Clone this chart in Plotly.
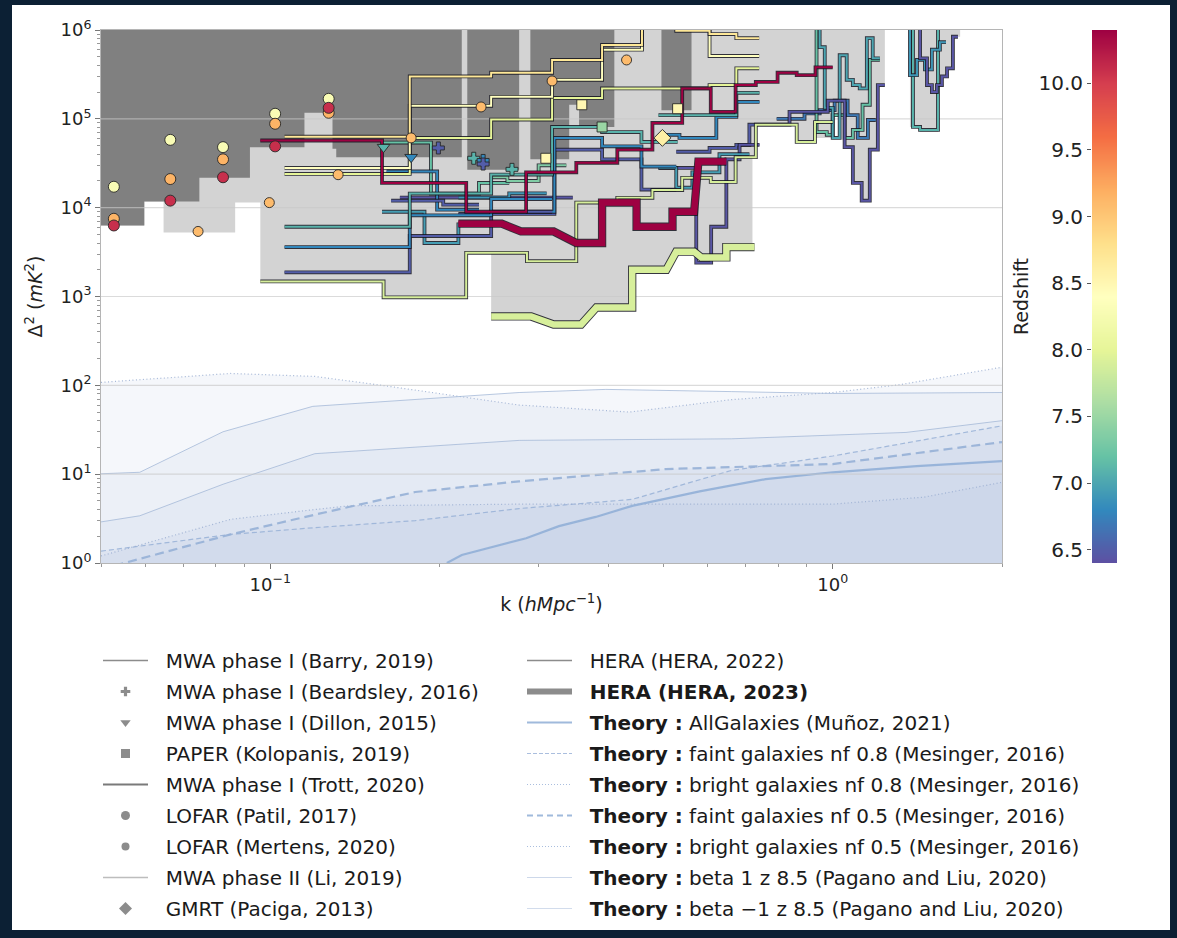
import numpy as np
import plotly.graph_objects as go
import plotly.colors as pc

# ---------------------------------------------------------------- colour map
Z_MIN, Z_MAX = 6.4, 10.4
SPECTRAL_R = pc.make_colorscale(pc.diverging.Spectral[::-1])


def zcolor(z):
    t = min(max((z - Z_MIN) / (Z_MAX - Z_MIN), 0.0), 1.0)
    return pc.sample_colorscale(SPECTRAL_R, [t])[0]


# ---------------------------------------------------------------- axes
K_MIN, K_MAX = 0.05, 2.0
D_MIN, D_MAX = 1.0, 1.0e6
y_tick_vals = [1, 10, 100, 1e3, 1e4, 1e5, 1e6]
y_tick_text = ["10<sup>0</sup>", "10<sup>1</sup>", "10<sup>2</sup>", "10<sup>3</sup>",
               "10<sup>4</sup>", "10<sup>5</sup>", "10<sup>6</sup>"]
x_tick_vals = [0.1, 1.0]
x_tick_text = ["10<sup>\u22121</sup>", "10<sup>0</sup>"]
cbar_tick_vals = [6.5, 7.0, 7.5, 8.0, 8.5, 9.0, 9.5, 10.0]

# ---------------------------------------------------------------- shaded limits
# lowest limit of all experiments (light) and of the older generation (dark)
light_floor_k = [0.05, 0.0597, 0.0597, 0.0646, 0.0646, 0.0866, 0.0866, 0.096, 0.096, 0.159,
                 0.159, 0.223, 0.223, 0.247, 0.247, 0.291, 0.319, 0.357, 0.38, 0.44,
                 0.44, 0.506, 0.527, 0.567, 0.584, 0.647, 0.647, 0.72, 0.72, 0.73,
                 0.73, 0.863, 0.863, 0.929, 0.929, 1.0, 1.0, 1.05, 1.05, 1.086,
                 1.086, 1.126, 1.126, 1.164, 1.164, 1.203, 1.203, 1.238, 1.238, 1.372,
                 1.372, 1.43, 1.43, 1.539, 1.539, 1.597, 1.597, 1.636, 1.636, 1.685,
                 1.685]
light_floor_d = [6.3e3, 6.3e3, 1.17e4, 1.17e4, 5.25e3, 5.25e3, 1.14e4, 1.14e4, 1.48e3, 1.48e3,
                 980, 980, 3.1e3, 3.1e3, 596, 596, 484, 484, 752, 752,
                 2.0e3, 2.0e3, 3.2e3, 3.2e3, 2.75e3, 2.75e3, 3.6e3, 3.6e3, 3.7e4, 3.7e4,
                 8.6e4, 8.6e4, 5.5e4, 5.5e4, 6.1e4, 6.1e4, 1.1e5, 1.1e5, 4.7e4, 4.7e4,
                 1.9e4, 1.9e4, 1.2e4, 1.2e4, 4.5e4, 4.5e4, 2.4e5, 2.4e5, 2e6, 2e6,
                 8.1e4, 8.1e4, 7.1e4, 7.1e4, 3.1e5, 3.1e5, 3.7e5, 3.7e5, 8.4e5, 8.4e5,
                 2e6]
dark_floor_k = [0.05, 0.0597, 0.0597, 0.0748, 0.0748, 0.092, 0.092, 0.115, 0.115, 0.129,
                0.129, 0.131, 0.131, 0.219, 0.219, 0.224, 0.224, 0.277, 0.277, 0.29,
                0.29, 0.34, 0.34, 0.354, 0.354, 0.409, 0.409, 0.496, 0.496, 0.561,
                0.561]
dark_floor_d = [6.3e3, 6.3e3, 1.17e4, 1.17e4, 2.17e4, 2.17e4, 4.8e4, 4.8e4, 1.17e5, 1.17e5,
                4.6e4, 4.6e4, 3.7e4, 3.7e4, 2e6, 2e6, 2.67e4, 2.67e4, 2e6, 2e6,
                3.5e4, 3.5e4, 1.44e5, 1.44e5, 8.1e4, 8.1e4, 2e6, 2e6, 1.25e5, 1.25e5,
                2e6]

# ---------------------------------------------------------------- theory curves
theory_bright08_k = [0.05, 0.085, 0.12, 0.158, 0.277, 0.435, 0.66, 1.0, 1.32, 2.0]
theory_bright08_d = [108, 136, 126, 100, 60, 50, 69, 83, 102, 160]
theory_beta_p1_k = [0.05, 0.0586, 0.0824, 0.119, 0.277, 0.395, 0.66, 1.0, 2.0]
theory_beta_p1_d = [10.1, 10.5, 30, 58, 83, 90, 85, 81, 83]
theory_beta_m1_k = [0.05, 0.0586, 0.0824, 0.12, 0.277, 0.66, 1.35, 2.0]
theory_beta_m1_d = [2.9, 3.4, 7.7, 17, 24, 25, 29.5, 40]
theory_faint05_k = [0.05, 0.055, 0.085, 0.12, 0.181, 0.277, 0.505, 1.0, 2.0]
theory_faint05_d = [0.85, 1.0, 2.1, 3.5, 6.3, 8.3, 11.4, 13, 23]
theory_faint08_k = [0.05, 0.085, 0.12, 0.181, 0.277, 0.44, 0.66, 1.0, 2.0]
theory_faint08_d = [1.36, 2.1, 2.5, 3.0, 4.1, 5.2, 11, 16, 35]
theory_bright05_k = [0.05, 0.085, 0.12, 0.138, 0.277, 1.0, 1.45, 2.0]
theory_bright05_d = [1.2, 3.1, 4.0, 4.4, 4.6, 4.6, 5.5, 8.1]
theory_allgal_k = [0.206, 0.219, 0.285, 0.326, 0.379, 0.44, 0.58, 0.76, 1.0, 1.41, 2.0]
theory_allgal_d = [1.0, 1.23, 1.9, 2.6, 3.3, 4.4, 6.4, 8.8, 10.5, 12.3, 14]

# ---------------------------------------------------------------- HERA limits
hera22_z104_k = [0.096, 0.158, 0.223, 0.285, 0.35, 0.414, 0.478, 0.54, 0.607, 0.672,
                 0.73, 0.798, 0.863, 0.932, 1.0]
hera22_z104_d = [5.7e4, 1.9e4, 9.0e3, 2.5e4, 3.2e4, 4.5e4, 9.0e4, 2.2e5, 1.2e5, 2.4e5,
                 2.6e5, 3.3e5, 3.1e5, 3.8e5, 3.8e5]
hera22_z79_k = [0.096, 0.159, 0.223, 0.286, 0.35, 0.414, 0.478, 0.54, 0.607, 0.672,
                0.73, 0.863, 0.93, 1.0]
hera22_z79_d = [1.48e3, 980, 3.1e3, 2.5e3, 1.14e4, 1.29e4, 1.58e4, 2.17e4, 1.95e4, 3.7e4,
                8.6e4, 5.5e4, 9.2e4, 9.2e4]
hera23_z104_k = [0.216, 0.258, 0.279, 0.319, 0.35, 0.389, 0.389, 0.448, 0.448, 0.519,
                 0.519, 0.567, 0.577, 0.647]
hera23_z104_d = [6.6e3, 6.6e3, 5.4e3, 5.4e3, 4.0e3, 4.0e3, 1.14e4, 1.14e4, 6.1e3, 6.1e3,
                 9.0e3, 9.0e3, 3.3e4, 3.3e4]
hera23_z79_k = [0.247, 0.291, 0.319, 0.357, 0.38, 0.44, 0.44, 0.506, 0.527, 0.567,
                0.584, 0.647, 0.647, 0.726]
hera23_z79_d = [596, 596, 484, 484, 752, 752, 2.0e3, 2.0e3, 3.2e3, 3.2e3,
                2.75e3, 2.75e3, 3.6e3, 3.6e3]

# ---------------------------------------------------------------- MWA limits
li_z87_k = [0.106, 0.177, 0.247, 0.317, 0.389, 0.458, 0.527, 0.604, 0.674, 0.74]
li_z87_d = [6.3e4, 3.0e5, 3.3e5, 4.6e5, 6.8e5, 1.5e6, 9.8e5, 9.0e5, 8.1e5, 8.1e5]
li_z84_k = [0.106, 0.177, 0.247, 0.317, 0.389, 0.458, 0.604, 0.74]
li_z84_d = [2.8e4, 1.4e5, 1.77e5, 2.75e5, 6.0e5, 1.5e6, 5.1e5, 5.1e5]
li_z80_k = [0.106, 0.177, 0.247, 0.317, 0.389, 0.604, 0.674, 0.74]
li_z80_d = [2.4e4, 6.1e4, 9.8e4, 1.72e5, 2.2e5, 2.4e5, 3.7e5, 3.7e5]

trott_z65_k = [0.106, 0.177, 0.247, 0.317]
trott_z65_d = [1.87e3, 4.8e3, 9.0e3, 9.0e3]
trott_z68_k = [0.106, 0.177, 0.247, 0.317]
trott_z68_d = [3.6e3, 8.2e3, 1.25e4, 1.25e4]
trott_z71_k = [0.106, 0.177, 0.247, 0.317, 0.389, 0.457, 0.53]
trott_z71_d = [6.1e3, 1.44e4, 2.36e4, 8.1e4, 7.1e4, 5.5e4, 5.5e4]

barry_a_k = [0.158, 0.193, 0.235, 0.266]
barry_a_d = [5.4e4, 1.44e4, 1.9e4, 1.9e4]
barry_b_k = [0.161, 0.198, 0.235]
barry_b_d = [2.56e4, 9.5e3, 9.5e3]
barry_c_k = [0.164, 0.203, 0.235]
barry_c_d = [1.2e4, 1.08e4, 1.08e4]
barry_d_k = [0.158, 0.188, 0.216, 0.235]
barry_d_d = [9.0e3, 4.0e3, 6.5e3, 6.5e3]
barry_e_k = [0.285, 0.32, 0.389, 0.457, 0.527]
barry_e_d = [9.0e3, 6.1e4, 4.9e4, 2.9e4, 2.9e4]
barry_f_k = [0.216, 0.32, 0.389, 0.457, 0.527]
barry_f_d = [8.5e3, 4.5e4, 3.5e4, 1.6e4, 1.6e4]
barry_g_k = [0.216, 0.266, 0.31]
barry_g_d = [1.3e4, 1.45e4, 1.45e4]
barry_h_k = [0.248, 0.264, 0.30, 0.336]
barry_h_d = [2.2e4, 2.0e4, 3.0e4, 3.0e4]
barry_i_k = [0.17, 0.345]
barry_i_d = [1.3e4, 1.3e4]

trott_hi_a_k = [0.49, 0.534, 0.621, 0.674, 0.741]
trott_hi_a_d = [6.6e4, 6.1e4, 1.05e5, 1.55e5, 1.55e5]
trott_hi_b_k = [0.49, 0.674, 0.741]
trott_hi_b_d = [1.1e5, 1.96e5, 1.96e5]
trott_hi_c_k = [0.527, 0.604, 0.674, 0.711, 0.741]
trott_hi_c_d = [4.26e4, 4.7e4, 5.1e4, 8.6e4, 8.6e4]
trott_hi_d_k = [0.49, 0.572, 0.608, 0.647, 0.683, 0.741]
trott_hi_d_d = [2.8e4, 2.4e3, 6.1e3, 3.5e4, 5.1e4, 5.1e4]
trott_hi_e_k = [0.49, 0.527, 0.563, 0.629, 0.711]
trott_hi_e_d = [2.8e4, 1.68e4, 2.5e4, 4.0e4, 4.0e4]

trott_k1_a_k = [0.91, 0.936, 0.976, 1.0, 1.05, 1.086, 1.13, 1.164, 1.213]
trott_k1_a_d = [1.3e6, 7.1e4, 6.6e4, 1.1e5, 6.1e4, 7.5e4, 1.44e5, 4.6e5, 4.6e5]
trott_k1_b_k = [0.929, 0.948, 0.968, 1.0, 1.029, 1.059, 1.086, 1.117, 1.15, 1.178, 1.213]
trott_k1_b_d = [1.3e6, 6.4e5, 1.33e5, 6.1e4, 5.2e5, 2.75e5, 2.4e5, 2.2e5, 8.1e5, 4.8e5, 4.8e5]
trott_k1_c_k = [0.741, 0.838, 0.98, 1.05, 1.086, 1.126, 1.164, 1.203, 1.238]
trott_k1_c_d = [8.6e4, 1.2e5, 1.6e5, 4.8e4, 1.9e4, 1.2e4, 4.5e4, 2.4e5, 2.4e5]
trott_k1_d_k = [0.795, 0.891, 0.948, 1.008, 1.063, 1.108, 1.155, 1.193]
trott_k1_d_d = [1.0e5, 1.15e5, 1.25e5, 1.6e5, 1.1e5, 6.1e4, 9.7e4, 9.7e4]

trott_k2_a_k = [1.344, 1.389, 1.43, 1.539, 1.583]
trott_k2_a_d = [1.3e6, 8.1e4, 7.5e4, 1.3e6, 1.3e6]
trott_k2_b_k = [1.40, 1.43, 1.471, 1.501, 1.532, 1.564, 1.597, 1.636, 1.67]
trott_k2_b_d = [1.3e6, 4.8e5, 2.4e5, 2.0e5, 2.4e5, 3.0e5, 3.7e5, 8.4e5, 8.4e5]
trott_k2_c_k = [1.344, 1.372, 1.412, 1.459, 1.501, 1.551, 1.59]
trott_k2_c_d = [1.3e6, 3.1e5, 4.6e5, 3.6e5, 6.0e5, 7.3e5, 7.3e5]

# ---------------------------------------------------------------- point limits
patil_k = [0.0527, 0.0664, 0.0824, 0.102, 0.127]
patil_z83_d = [1.72e4, 5.8e4, 4.8e4, 1.14e5, 1.68e5]
patil_z915_d = [7.5e3, 2.1e4, 3.5e4, 8.8e4, 1.17e5]
patil_z101_d = [6.3e3, 1.2e4, 2.2e4, 4.9e4, 1.33e5]
mertens_k = [0.0744, 0.0996, 0.132, 0.178, 0.237, 0.317, 0.43]
mertens_d = [5.4e3, 1.14e4, 2.35e4, 6.1e4, 1.36e5, 2.67e5, 4.6e5]
dillon_k = [0.159, 0.178]
dillon_d = [4.8e4, 3.7e4]
dillon_z = [7.1, 6.8]
beardsley_k = [0.199, 0.23, 0.239, 0.239, 0.269]
beardsley_d = [4.7e4, 3.6e4, 3.4e4, 3.1e4, 2.7e4]
beardsley_z = [6.5, 7.1, 6.8, 6.5, 7.1]
kolopanis_k = [0.309, 0.358, 0.389, 0.53]
kolopanis_d = [3.6e4, 1.44e5, 8.1e4, 1.3e5]
kolopanis_z = [8.5, 8.5, 7.5, 8.5]
paciga_k = [0.498]
paciga_d = [6.1e4]
paciga_z = [8.6]

# ---------------------------------------------------------------- legend
PAD = "\u00a0\u00a0"
legend_left = [
    ("MWA phase I (Barry, 2019)", dict(mode="lines", line=dict(color="#8c8c8c", width=1.5))),
    ("MWA phase I (Beardsley, 2016)", dict(mode="markers", marker=dict(symbol="cross", size=8, color="#8c8c8c"))),
    ("MWA phase I (Dillon, 2015)", dict(mode="markers", marker=dict(symbol="triangle-down", size=9, color="#8c8c8c"))),
    ("PAPER (Kolopanis, 2019)", dict(mode="markers", marker=dict(symbol="square", size=9, color="#8c8c8c"))),
    ("MWA phase I (Trott, 2020)", dict(mode="lines", line=dict(color="#7a7a7a", width=2))),
    ("LOFAR (Patil, 2017)", dict(mode="markers", marker=dict(symbol="circle", size=9, color="#8c8c8c"))),
    ("LOFAR (Mertens, 2020)", dict(mode="markers", marker=dict(symbol="circle", size=8, color="#8c8c8c"))),
    ("MWA phase II (Li, 2019)", dict(mode="lines", line=dict(color="#bdbdbd", width=1.5))),
    ("GMRT (Paciga, 2013)", dict(mode="markers", marker=dict(symbol="diamond", size=10, color="#8c8c8c"))),
]
TH = "<b>Theory :</b> "
legend_right = [
    ("HERA (HERA, 2022)", dict(mode="lines", line=dict(color="#8c8c8c", width=1.5))),
    ("<b>HERA (HERA, 2023)</b>", dict(mode="lines", line=dict(color="#8c8c8c", width=6))),
    (TH + "AllGalaxies (Muñoz, 2021)", dict(mode="lines", line=dict(color="rgb(160,186,220)", width=2))),
    (TH + "faint galaxies nf 0.8 (Mesinger, 2016)", dict(mode="lines", line=dict(color="rgb(170,190,222)", width=1, dash="4px,2px"))),
    (TH + "bright galaxies nf 0.8 (Mesinger, 2016)", dict(mode="lines", line=dict(color="rgb(170,190,222)", width=1, dash="1px,2px"))),
    (TH + "faint galaxies nf 0.5 (Mesinger, 2016)", dict(mode="lines", line=dict(color="rgb(160,186,220)", width=2, dash="6px,4px"))),
    (TH + "bright galaxies nf 0.5 (Mesinger, 2016)", dict(mode="lines", line=dict(color="rgb(170,190,222)", width=1, dash="1px,2px"))),
    (TH + "beta 1 z 8.5 (Pagano and Liu, 2020)", dict(mode="lines", line=dict(color="rgb(205,216,234)", width=1.2))),
    (TH + "beta \u22121 z 8.5 (Pagano and Liu, 2020)", dict(mode="lines", line=dict(color="rgb(210,220,236)", width=1.2))),
]

# ================================================================= figure
fig = go.Figure()
FONT = "DejaVu Sans"
NOHOVER = dict(hoverinfo="skip", showlegend=False)


def polygon_above(k, d, color):
    xs = list(k) + [k[-1], k[0]]
    ys = list(d) + [2e6, 2e6]
    fig.add_trace(go.Scatter(x=xs, y=ys, mode="lines", fill="toself", fillcolor=color,
                             line=dict(width=0, color=color), **NOHOVER))


polygon_above(light_floor_k, light_floor_d, "rgb(211,211,211)")
polygon_above(dark_floor_k, dark_floor_d, "rgb(128,128,128)")

# theory: each curve shaded down to the bottom of the axis
THEORY_FILL = "rgba(176,196,222,0.13)"
theory_curves = [
    (theory_bright08_k, theory_bright08_d, dict(color="rgba(150,172,208,0.85)", width=1.2, dash="1px,2.5px")),
    (theory_beta_p1_k, theory_beta_p1_d, dict(color="rgba(160,182,214,0.75)", width=1)),
    (theory_beta_m1_k, theory_beta_m1_d, dict(color="rgba(160,182,214,0.75)", width=1)),
    (theory_faint05_k, theory_faint05_d, dict(color="rgba(150,176,214,0.9)", width=2.2, dash="9px,5px")),
    (theory_faint08_k, theory_faint08_d, dict(color="rgba(150,176,214,0.85)", width=1.2, dash="5px,3px")),
    (theory_bright05_k, theory_bright05_d, dict(color="rgba(150,172,208,0.85)", width=1.2, dash="1px,2.5px")),
    (theory_allgal_k, theory_allgal_d, dict(color="rgba(145,175,215,0.9)", width=2.2)),
]
for k, d, style in theory_curves:
    fig.add_trace(go.Scatter(x=list(k) + [k[-1], k[0]], y=list(d) + [0.5, 0.5],
                             mode="lines", fill="toself", fillcolor=THEORY_FILL,
                             line=dict(width=0, color=THEORY_FILL), **NOHOVER))
for k, d, style in theory_curves:
    fig.add_trace(go.Scatter(x=k, y=d, mode="lines", line=style, **NOHOVER))

# horizontal grid, kept above the shading
for v in y_tick_vals[1:-1]:
    fig.add_trace(go.Scatter(x=[K_MIN, K_MAX], y=[v, v], mode="lines",
                             line=dict(color="rgba(200,200,200,0.65)", width=1.2), **NOHOVER))

EDGE = "rgba(20,20,30,0.85)"


def step_line(k, d, z, width=2.0, shape="hv"):
    fig.add_trace(go.Scatter(x=k, y=d, mode="lines",
                             line=dict(color=EDGE, width=width + 1.8, shape=shape), **NOHOVER))
    fig.add_trace(go.Scatter(x=k, y=d, mode="lines",
                             line=dict(color=zcolor(z), width=width, shape=shape), **NOHOVER))


step_lines = [
    (trott_k1_d_k, trott_k1_d_d, 6.7), (trott_k1_a_k, trott_k1_a_d, 7.2),
    (trott_k1_b_k, trott_k1_b_d, 7.0), (trott_k1_c_k, trott_k1_c_d, 6.45),
    (trott_k2_a_k, trott_k2_a_d, 7.1), (trott_k2_c_k, trott_k2_c_d, 6.9),
    (trott_k2_b_k, trott_k2_b_d, 6.45),
    (trott_hi_a_k, trott_hi_a_d, 6.8), (trott_hi_b_k, trott_hi_b_d, 7.1),
    (trott_hi_c_k, trott_hi_c_d, 6.5), (trott_hi_d_k, trott_hi_d_d, 6.45),
    (trott_hi_e_k, trott_hi_e_d, 6.95),
    (barry_i_k, barry_i_d, 6.45), (barry_d_k, barry_d_d, 6.95),
    (barry_a_k, barry_a_d, 7.2), (barry_b_k, barry_b_d, 6.8), (barry_c_k, barry_c_d, 6.5),
    (barry_g_k, barry_g_d, 6.9), (barry_h_k, barry_h_d, 7.35),
    (barry_f_k, barry_f_d, 6.5), (barry_e_k, barry_e_d, 6.8),
    (trott_z65_k, trott_z65_d, 6.5), (trott_z68_k, trott_z68_d, 6.8),
    (trott_z71_k, trott_z71_d, 7.1),
    (li_z80_k, li_z80_d, 8.0), (li_z84_k, li_z84_d, 8.4), (li_z87_k, li_z87_d, 8.7),
    (hera22_z79_k, hera22_z79_d, 7.9), (hera22_z104_k, hera22_z104_d, 10.4),
]
for k, d, z in step_lines:
    step_line(k, d, z)

# HERA 2023 (thick)
step_line(hera23_z79_k, hera23_z79_d, 7.9, width=6.5, shape="linear")
step_line(hera23_z104_k, hera23_z104_d, 10.4, width=6.5, shape="linear")

# point limits
MEDGE = dict(color="rgba(40,40,40,0.9)", width=1)


def points(k, d, zs, symbol, size):
    fig.add_trace(go.Scatter(x=k, y=d, mode="markers",
                             marker=dict(symbol=symbol, size=size, color=[zcolor(z) for z in zs],
                                         line=MEDGE), **NOHOVER))


points(patil_k, patil_z83_d, [8.3] * len(patil_k), "circle", 11)
points(patil_k, patil_z915_d, [9.15] * len(patil_k), "circle", 11)
points(patil_k, patil_z101_d, [10.1] * len(patil_k), "circle", 11)
points(mertens_k, mertens_d, [9.1] * len(mertens_k), "circle", 10)
points(dillon_k, dillon_d, dillon_z, "triangle-down", 11)
points(beardsley_k, beardsley_d, beardsley_z, "cross", 10)
points(kolopanis_k, kolopanis_d, kolopanis_z, "square", 10)
points(paciga_k, paciga_d, paciga_z, "diamond", 13)

# legend entries
for i, (name, style) in enumerate(legend_left):
    fig.add_trace(go.Scatter(x=[None], y=[None], name=PAD + name, legend="legend",
                             legendgroup=f"l{i}", **style))
for i, (name, style) in enumerate(legend_right):
    fig.add_trace(go.Scatter(x=[None], y=[None], name=PAD + name, legend="legend2",
                             legendgroup=f"r{i}", **style))

# redshift colour bar drawn as its own small axis
cbar_z = np.linspace(Z_MIN, Z_MAX, 256)
fig.add_trace(go.Heatmap(x=[0], y=cbar_z, z=cbar_z.reshape(-1, 1), colorscale=SPECTRAL_R,
                         zmin=Z_MIN, zmax=Z_MAX, showscale=False, zsmooth="best",
                         xaxis="x2", yaxis="y2", hoverinfo="skip"))

# ---------------------------------------------------------------- layout
W, H = 1177, 938
ML, MR, MT, MB = 101, 60, 30, 375
PW, PH = W - ML - MR, H - MT - MB


def px_x(p):
    return (p - ML) / PW


def px_y(p):
    return (H - MB - p) / PH


axis_common = dict(showline=True, mirror=True, linecolor="#b5b5b5", linewidth=1,
                   ticks="outside", tickcolor="#777", ticklen=5, tickwidth=1,
                   showgrid=False, zeroline=False,
                   tickfont=dict(family=FONT, size=18, color="#222"))
LEGEND_FONT = dict(family=FONT, size=20, color="#1a1a1a")

fig.update_layout(
    width=W, height=H,
    margin=dict(l=ML, r=MR, t=MT, b=MB, autoexpand=False),
    paper_bgcolor="rgb(12,32,52)", plot_bgcolor="white",
    hovermode=False,
    font=dict(family=FONT, color="#222"),
    xaxis=dict(type="log", range=[np.log10(K_MIN), np.log10(K_MAX)], domain=[0, px_x(1002)],
               tickvals=x_tick_vals, ticktext=x_tick_text,
               minor=dict(tickvals=[0.05, 0.06, 0.07, 0.08, 0.09, 0.2, 0.3, 0.4, 0.5, 0.6,
                                    0.7, 0.8, 0.9, 2.0],
                          ticks="outside", ticklen=3, tickcolor="#999"),
               title=dict(text="k (<i>hMpc</i><sup>\u22121</sup>)",
                          font=dict(family=FONT, size=19, color="#222"), standoff=4),
               **axis_common),
    yaxis=dict(type="log", range=[np.log10(D_MIN), np.log10(D_MAX)],
               tickvals=y_tick_vals, ticktext=y_tick_text,
               minor=dict(tickvals=[m * 10 ** n for n in range(6) for m in range(2, 10)],
                          ticks="outside", ticklen=3, tickcolor="#999"),
               title=dict(text="\u0394<sup>2</sup> (<i>mK</i><sup>2</sup>)",
                          font=dict(family=FONT, size=19, color="#222"), standoff=12),
               **axis_common),
    xaxis2=dict(domain=[px_x(1092), px_x(1117)], anchor="y2", visible=False,
                range=[-0.5, 0.5]),
    yaxis2=dict(domain=[0, 1], anchor="x2", side="left", range=[Z_MIN, Z_MAX],
                tickvals=cbar_tick_vals, ticktext=[f"{v:.1f}" for v in cbar_tick_vals],
                ticks="outside", ticklen=4, tickcolor="#555", showgrid=False, zeroline=False,
                tickfont=dict(family=FONT, size=20, color="#222"),
                title=dict(text="Redshift", font=dict(family=FONT, size=19, color="#222"),
                           standoff=4)),
    legend=dict(x=px_x(98), y=px_y(641), xanchor="left", yanchor="top",
                bgcolor="rgba(0,0,0,0)", font=LEGEND_FONT,
                traceorder="grouped", tracegroupgap=2, itemwidth=45),
    legend2=dict(x=px_x(522), y=px_y(641), xanchor="left", yanchor="top",
                 bgcolor="rgba(0,0,0,0)", font=LEGEND_FONT,
                 traceorder="grouped", tracegroupgap=2, itemwidth=45),
    shapes=[dict(type="rect", xref="paper", yref="paper", layer="below",
                 x0=px_x(12), x1=px_x(1170), y0=px_y(930), y1=px_y(5),
                 fillcolor="white", line=dict(width=0))],
)

fig.write_html("out.html")
